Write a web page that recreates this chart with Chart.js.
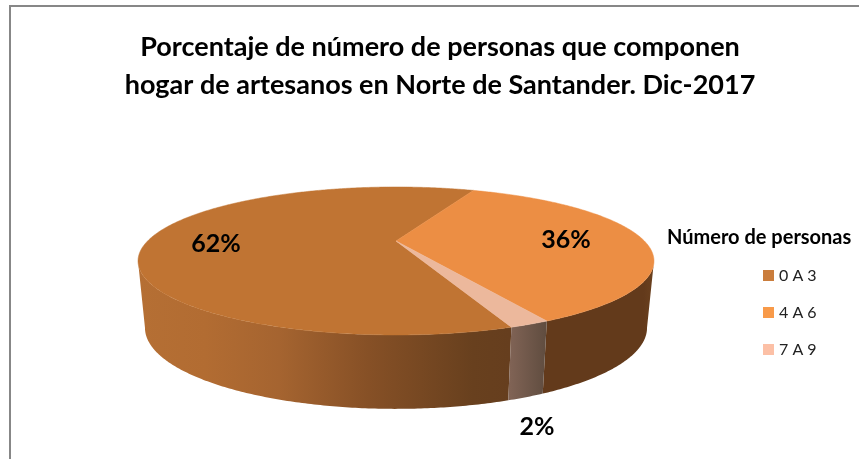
<!DOCTYPE html>
<html>
<head>
<meta charset="utf-8">
<style>
html,body{margin:0;padding:0;background:#fff;overflow:hidden}
canvas{display:block}
</style>
<script src="https://cdn.jsdelivr.net/npm/chart.js@4/dist/chart.umd.min.js"></script>
</head>
<body>
<canvas id="c" width="859" height="459"></canvas>
<script>
const titleLines = ['Porcentaje de número de personas que componen','hogar de artesanos en Norte de Santander. Dic-2017'];
const legendTitle = 'Número de personas';
const categories = ['0 A 3','4 A 6','7 A 9'];
const values = [62,36,2];
const legendColors = ['#ca7d3c','#f89a49','#fcc0a6'];

// appearance only
const faceColors = ['#c07433','#ec8e44','#ecb89c'];
const wallStops = [
  [[0,'#b56f34'],[0.18,'#b26c32'],[0.38,'#a56430'],[0.62,'#865026'],[0.9,'#68401e'],[1,'#663e1e']],
  [[0,'#633a1b'],[0.9,'#633a1b'],[1,'#6b411f']],
  [[0,'#806355'],[1,'#5f4c3f']]
];
const wallGradX = [[138,510],[547,654],[510,547]];
const topFace = {cx:396,cy:241,a:248.4,b:68.6,k:0.27};
const bottomFace = {cx:396,cy:306,a:241.7,b:75.1,k:0.27};
const labelAnchors = [[216,244],[566,240],[537,427]];

function project(f,angle){
  const u=Math.cos(angle), v=Math.sin(angle), w=1-f.k*v;
  return [f.cx+f.a*u/w, f.cy+f.b*v/w];
}
function arcPoints(f,a0,a1){
  const n=Math.max(2,Math.ceil(Math.abs(a1-a0)/0.01)), pts=[];
  for(let i=0;i<=n;i++) pts.push(project(f,a0+(a1-a0)*i/n));
  return pts;
}
// visible front part of a wall: between the two silhouette angles
function frontRanges(s,e){
  const lo=Math.asin(topFace.k), hi=Math.PI-lo, out=[];
  for(let n=-1;n<=1;n++){
    const a=Math.max(s,lo+2*Math.PI*n), b=Math.min(e,hi+2*Math.PI*n);
    if(b>a) out.push([a,b]);
  }
  return out;
}
const pie3d = {
  id:'pie3d',
  afterLayout(chart){
    const lg=chart.legend, h=lg.height;
    lg.left=745; lg.right=lg.left+lg.width; lg.top=246.5; lg.bottom=lg.top+h;
  },
  beforeDatasetsDraw(chart){
    const ctx=chart.ctx, arcs=chart.getDatasetMeta(0).data;
    ctx.save();
    arcs.forEach((el,i)=>{
      const g=ctx.createLinearGradient(wallGradX[i][0],0,wallGradX[i][1],0);
      wallStops[i].forEach(p=>g.addColorStop(p[0],p[1]));
      frontRanges(el.startAngle,el.endAngle).forEach(r=>{
        const t=arcPoints(topFace,r[0],r[1]), b=arcPoints(bottomFace,r[1],r[0]);
        ctx.beginPath();
        t.concat(b).forEach((p,j)=>j?ctx.lineTo(p[0],p[1]):ctx.moveTo(p[0],p[1]));
        ctx.closePath(); ctx.fillStyle=g; ctx.fill();
      });
    });
    arcs.forEach((el,i)=>{
      ctx.beginPath(); ctx.moveTo(topFace.cx,topFace.cy);
      arcPoints(topFace,el.startAngle,el.endAngle).forEach(p=>ctx.lineTo(p[0],p[1]));
      ctx.closePath(); ctx.fillStyle=faceColors[i]; ctx.fill();
      ctx.strokeStyle=faceColors[i]; ctx.lineWidth=0.5; ctx.stroke();
    });
    ctx.restore();
    return false;
  },
  afterDraw(chart){
    const ctx=chart.ctx;
    ctx.save();
    ctx.strokeStyle='#878787'; ctx.lineWidth=2;
    ctx.beginPath(); ctx.moveTo(10,459); ctx.lineTo(10,6); ctx.lineTo(859,6); ctx.stroke();
    ctx.fillStyle='#000'; ctx.font='bold 25px Lato'; ctx.textAlign='center'; ctx.textBaseline='middle';
    const total=values.reduce((a,b)=>a+b,0);
    values.forEach((v,i)=>ctx.fillText(Math.round(v/total*100)+'%',labelAnchors[i][0],labelAnchors[i][1]));
    ctx.font='bold 20px Lato'; ctx.textAlign='left';
    ctx.fillText(legendTitle,667,238);
    ctx.restore();
  }
};
new Chart(document.getElementById('c'),{
  type:'pie',
  data:{labels:categories,datasets:[{data:values,backgroundColor:legendColors,borderWidth:0}]},
  options:{
    responsive:false,animation:false,rotation:159.7,
    layout:{padding:{left:21}},
    plugins:{
      tooltip:{enabled:false},
      title:{display:true,text:titleLines,color:'#000',font:{family:'Lato',size:27,weight:'bold',lineHeight:1.41},padding:{top:28,bottom:0}},
      legend:{display:true,position:'right',align:'start',
        labels:{boxWidth:5,boxHeight:5,padding:21,color:'#222',font:{family:'Lato',size:16},
          generateLabels(chart){
            return Chart.overrides.pie.plugins.legend.labels.generateLabels(chart)
              .map(l=>Object.assign(l,{lineWidth:6,strokeStyle:l.fillStyle}));
          }}}
    }
  },
  plugins:[pie3d]
});
</script>
</body>
</html>
